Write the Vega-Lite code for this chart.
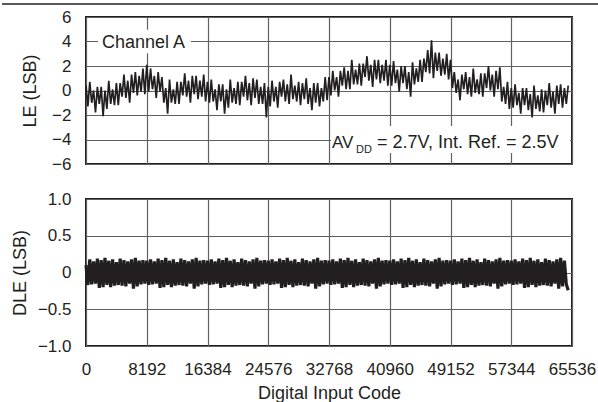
{
  "$schema": "https://vega.github.io/schema/vega-lite/v6.json",
  "padding": {"top": 2, "left": 0, "right": 0, "bottom": 2},
  "background": "white",
  "config": {
    "font": "Liberation Sans",
    "view": {"stroke": "#231f20", "strokeWidth": 2},
    "axis": {
      "labelFont": "Liberation Sans", "titleFont": "Liberation Sans",
      "labelFontSize": 17, "titleFontSize": 18, "titleFontWeight": "normal",
      "labelColor": "#231f20", "titleColor": "#231f20",
      "gridColor": "#606060", "gridWidth": 1.2, "gridOpacity": 1,
      "domain": false, "ticks": false, "labelOverlap": false
    },
    "text": {"font": "Liberation Sans", "color": "#231f20"}
  },
  "datasets": {
    "d": [
      {"x":0,"le":0.4,"dle":0.1},{"x":256,"le":-1.3,"dle":-0.17},{"x":512,"le":0.7,"dle":0.18},{"x":768,"le":-1.0,"dle":-0.16},
      {"x":1024,"le":0.0,"dle":0.15},{"x":1280,"le":-1.8,"dle":-0.15},{"x":1536,"le":0.3,"dle":0.19},{"x":1792,"le":-1.1,"dle":-0.21},
      {"x":2048,"le":0.3,"dle":0.17},{"x":2304,"le":-2.1,"dle":-0.2},{"x":2560,"le":0.0,"dle":0.2},{"x":2816,"le":-1.5,"dle":-0.17},
      {"x":3072,"le":0.8,"dle":0.16},{"x":3328,"le":-1.1,"dle":-0.2},{"x":3584,"le":0.1,"dle":0.18},{"x":3840,"le":-1.2,"dle":-0.18},
      {"x":4096,"le":0.6,"dle":0.14},{"x":4352,"le":-1.2,"dle":-0.17},{"x":4608,"le":0.6,"dle":0.19},{"x":4864,"le":-0.5,"dle":-0.18},
      {"x":5120,"le":1.3,"dle":0.17},{"x":5376,"le":-0.6,"dle":-0.19},{"x":5632,"le":0.8,"dle":0.15},{"x":5888,"le":-1.0,"dle":-0.15},
      {"x":6144,"le":1.3,"dle":0.18},{"x":6400,"le":-0.2,"dle":-0.22},{"x":6656,"le":1.5,"dle":0.2},{"x":6912,"le":-0.4,"dle":-0.19},
      {"x":7168,"le":1.2,"dle":0.16},{"x":7424,"le":-0.1,"dle":-0.16},{"x":7680,"le":1.8,"dle":0.17},{"x":7936,"le":-0.3,"dle":-0.15},
      {"x":8192,"le":2.1,"dle":0.16},{"x":8448,"le":-0.1,"dle":-0.17},{"x":8704,"le":1.8,"dle":0.18},{"x":8960,"le":0.1,"dle":-0.16},
      {"x":9216,"le":1.2,"dle":0.15},{"x":9472,"le":-0.6,"dle":-0.15},{"x":9728,"le":1.5,"dle":0.19},{"x":9984,"le":-0.1,"dle":-0.21},
      {"x":10240,"le":1.1,"dle":0.17},{"x":10496,"le":-1.0,"dle":-0.2},{"x":10752,"le":0.2,"dle":0.2},{"x":11008,"le":-1.9,"dle":-0.17},
      {"x":11264,"le":0.9,"dle":0.16},{"x":11520,"le":-1.0,"dle":-0.2},{"x":11776,"le":0.1,"dle":0.18},{"x":12032,"le":-1.1,"dle":-0.18},
      {"x":12288,"le":0.7,"dle":0.14},{"x":12544,"le":-1.1,"dle":-0.17},{"x":12800,"le":0.7,"dle":0.19},{"x":13056,"le":-0.4,"dle":-0.18},
      {"x":13312,"le":1.4,"dle":0.17},{"x":13568,"le":-0.5,"dle":-0.19},{"x":13824,"le":0.8,"dle":0.15},{"x":14080,"le":-1.0,"dle":-0.15},
      {"x":14336,"le":1.2,"dle":0.18},{"x":14592,"le":-0.3,"dle":-0.22},{"x":14848,"le":1.2,"dle":0.2},{"x":15104,"le":-0.7,"dle":-0.19},
      {"x":15360,"le":0.8,"dle":0.16},{"x":15616,"le":-0.5,"dle":-0.16},{"x":15872,"le":1.3,"dle":0.17},{"x":16128,"le":-0.9,"dle":-0.15},
      {"x":16384,"le":0.7,"dle":0.16},{"x":16640,"le":-1.0,"dle":-0.17},{"x":16896,"le":0.9,"dle":0.18},{"x":17152,"le":-0.9,"dle":-0.16},
      {"x":17408,"le":0.1,"dle":0.15},{"x":17664,"le":-1.6,"dle":-0.15},{"x":17920,"le":0.5,"dle":0.19},{"x":18176,"le":-0.9,"dle":-0.21},
      {"x":18432,"le":0.5,"dle":0.17},{"x":18688,"le":-1.9,"dle":-0.2},{"x":18944,"le":0.1,"dle":0.2},{"x":19200,"le":-1.4,"dle":-0.17},
      {"x":19456,"le":0.9,"dle":0.16},{"x":19712,"le":-1.0,"dle":-0.2},{"x":19968,"le":0.2,"dle":0.18},{"x":20224,"le":-1.1,"dle":-0.18},
      {"x":20480,"le":0.7,"dle":0.14},{"x":20736,"le":-1.2,"dle":-0.17},{"x":20992,"le":0.7,"dle":0.19},{"x":21248,"le":-0.5,"dle":-0.18},
      {"x":21504,"le":1.2,"dle":0.17},{"x":21760,"le":-0.8,"dle":-0.19},{"x":22016,"le":0.6,"dle":0.15},{"x":22272,"le":-1.2,"dle":-0.15},
      {"x":22528,"le":1.0,"dle":0.18},{"x":22784,"le":-0.6,"dle":-0.22},{"x":23040,"le":0.9,"dle":0.2},{"x":23296,"le":-1.1,"dle":-0.19},
      {"x":23552,"le":0.3,"dle":0.16},{"x":23808,"le":-1.1,"dle":-0.16},{"x":24064,"le":0.6,"dle":0.17},{"x":24320,"le":-2.2,"dle":-0.15},
      {"x":24576,"le":0.3,"dle":0.16},{"x":24832,"le":-1.3,"dle":-0.17},{"x":25088,"le":0.8,"dle":0.18},{"x":25344,"le":-0.9,"dle":-0.16},
      {"x":25600,"le":0.3,"dle":0.15},{"x":25856,"le":-1.4,"dle":-0.15},{"x":26112,"le":0.7,"dle":0.19},{"x":26368,"le":-0.5,"dle":-0.21},
      {"x":26624,"le":0.9,"dle":0.17},{"x":26880,"le":-0.9,"dle":-0.2},{"x":27136,"le":0.5,"dle":0.2},{"x":27392,"le":-1.1,"dle":-0.17},
      {"x":27648,"le":1.3,"dle":0.16},{"x":27904,"le":-0.7,"dle":-0.2},{"x":28160,"le":0.4,"dle":0.18},{"x":28416,"le":-0.9,"dle":-0.18},
      {"x":28672,"le":0.7,"dle":0.14},{"x":28928,"le":-1.2,"dle":-0.17},{"x":29184,"le":0.6,"dle":0.19},{"x":29440,"le":-0.7,"dle":-0.18},
      {"x":29696,"le":1.0,"dle":0.17},{"x":29952,"le":-1.1,"dle":-0.19},{"x":30208,"le":0.2,"dle":0.15},{"x":30464,"le":-1.6,"dle":-0.15},
      {"x":30720,"le":0.6,"dle":0.18},{"x":30976,"le":-1.0,"dle":-0.22},{"x":31232,"le":0.6,"dle":0.2},{"x":31488,"le":-1.3,"dle":-0.19},
      {"x":31744,"le":0.2,"dle":0.16},{"x":32000,"le":-0.9,"dle":-0.16},{"x":32256,"le":1.1,"dle":0.17},{"x":32512,"le":-0.8,"dle":-0.15},
      {"x":32768,"le":1.1,"dle":0.16},{"x":33024,"le":-0.4,"dle":-0.17},{"x":33280,"le":1.6,"dle":0.18},{"x":33536,"le":0.0,"dle":-0.16},
      {"x":33792,"le":1.1,"dle":0.15},{"x":34048,"le":-0.5,"dle":-0.15},{"x":34304,"le":1.6,"dle":0.19},{"x":34560,"le":0.4,"dle":-0.21},
      {"x":34816,"le":1.9,"dle":0.17},{"x":35072,"le":0.1,"dle":-0.2},{"x":35328,"le":1.6,"dle":0.2},{"x":35584,"le":0.1,"dle":-0.17},
      {"x":35840,"le":2.5,"dle":0.16},{"x":36096,"le":0.5,"dle":-0.2},{"x":36352,"le":1.7,"dle":0.18},{"x":36608,"le":0.5,"dle":-0.18},
      {"x":36864,"le":2.2,"dle":0.14},{"x":37120,"le":0.4,"dle":-0.17},{"x":37376,"le":2.2,"dle":0.19},{"x":37632,"le":1.1,"dle":-0.18},
      {"x":37888,"le":2.8,"dle":0.17},{"x":38144,"le":0.8,"dle":-0.19},{"x":38400,"le":2.1,"dle":0.15},{"x":38656,"le":0.3,"dle":-0.15},
      {"x":38912,"le":2.5,"dle":0.18},{"x":39168,"le":0.9,"dle":-0.22},{"x":39424,"le":2.5,"dle":0.2},{"x":39680,"le":0.6,"dle":-0.19},
      {"x":39936,"le":2.1,"dle":0.16},{"x":40192,"le":0.8,"dle":-0.16},{"x":40448,"le":2.5,"dle":0.17},{"x":40704,"le":0.4,"dle":-0.15},
      {"x":40960,"le":2.1,"dle":0.16},{"x":41216,"le":0.4,"dle":-0.17},{"x":41472,"le":2.4,"dle":0.18},{"x":41728,"le":0.6,"dle":-0.16},
      {"x":41984,"le":1.7,"dle":0.15},{"x":42240,"le":-0.1,"dle":-0.15},{"x":42496,"le":2.0,"dle":0.19},{"x":42752,"le":0.6,"dle":-0.21},
      {"x":43008,"le":2.0,"dle":0.17},{"x":43264,"le":0.1,"dle":-0.2},{"x":43520,"le":1.5,"dle":0.2},{"x":43776,"le":-0.5,"dle":-0.17},
      {"x":44032,"le":2.3,"dle":0.16},{"x":44288,"le":0.5,"dle":-0.2},{"x":44544,"le":1.8,"dle":0.18},{"x":44800,"le":0.7,"dle":-0.18},
      {"x":45056,"le":2.5,"dle":0.14},{"x":45312,"le":0.7,"dle":-0.17},{"x":45568,"le":2.6,"dle":0.19},{"x":45824,"le":1.5,"dle":-0.18},
      {"x":46080,"le":3.3,"dle":0.17},{"x":46336,"le":1.4,"dle":-0.19},{"x":46592,"le":4.1,"dle":0.15},{"x":46848,"le":1.0,"dle":-0.15},
      {"x":47104,"le":3.1,"dle":0.18},{"x":47360,"le":1.6,"dle":-0.22},{"x":47616,"le":3.1,"dle":0.2},{"x":47872,"le":1.2,"dle":-0.19},
      {"x":48128,"le":2.6,"dle":0.16},{"x":48384,"le":1.3,"dle":-0.16},{"x":48640,"le":3.0,"dle":0.17},{"x":48896,"le":0.9,"dle":-0.15},
      {"x":49152,"le":2.5,"dle":0.16},{"x":49408,"le":0.2,"dle":-0.17},{"x":49664,"le":1.5,"dle":0.18},{"x":49920,"le":-0.2,"dle":-0.16},
      {"x":50176,"le":0.9,"dle":0.15},{"x":50432,"le":-0.8,"dle":-0.15},{"x":50688,"le":1.3,"dle":0.19},{"x":50944,"le":0.1,"dle":-0.21},
      {"x":51200,"le":1.5,"dle":0.17},{"x":51456,"le":-0.3,"dle":-0.2},{"x":51712,"le":1.1,"dle":0.2},{"x":51968,"le":-0.5,"dle":-0.17},
      {"x":52224,"le":1.8,"dle":0.16},{"x":52480,"le":-0.2,"dle":-0.2},{"x":52736,"le":0.9,"dle":0.18},{"x":52992,"le":-0.3,"dle":-0.18},
      {"x":53248,"le":1.4,"dle":0.14},{"x":53504,"le":-0.5,"dle":-0.17},{"x":53760,"le":1.4,"dle":0.19},{"x":54016,"le":0.2,"dle":-0.18},
      {"x":54272,"le":2.0,"dle":0.17},{"x":54528,"le":0.0,"dle":-0.19},{"x":54784,"le":1.3,"dle":0.15},{"x":55040,"le":-0.5,"dle":-0.15},
      {"x":55296,"le":1.6,"dle":0.18},{"x":55552,"le":0.1,"dle":-0.22},{"x":55808,"le":1.9,"dle":0.2},{"x":56064,"le":-0.9,"dle":-0.19},
      {"x":56320,"le":0.3,"dle":0.16},{"x":56576,"le":-1.1,"dle":-0.16},{"x":56832,"le":0.7,"dle":0.17},{"x":57088,"le":-1.5,"dle":-0.15},
      {"x":57344,"le":0.2,"dle":0.16},{"x":57600,"le":-1.4,"dle":-0.17},{"x":57856,"le":0.5,"dle":0.18},{"x":58112,"le":-1.2,"dle":-0.16},
      {"x":58368,"le":-0.2,"dle":0.15},{"x":58624,"le":-1.9,"dle":-0.15},{"x":58880,"le":0.2,"dle":0.19},{"x":59136,"le":-1.2,"dle":-0.21},
      {"x":59392,"le":0.2,"dle":0.17},{"x":59648,"le":-1.6,"dle":-0.2},{"x":59904,"le":-0.3,"dle":0.2},{"x":60160,"le":-2.2,"dle":-0.17},
      {"x":60416,"le":0.4,"dle":0.16},{"x":60672,"le":-1.5,"dle":-0.2},{"x":60928,"le":-0.4,"dle":0.18},{"x":61184,"le":-1.7,"dle":-0.18},
      {"x":61440,"le":0.1,"dle":0.14},{"x":61696,"le":-1.8,"dle":-0.17},{"x":61952,"le":0.0,"dle":0.19},{"x":62208,"le":-1.2,"dle":-0.18},
      {"x":62464,"le":0.6,"dle":0.17},{"x":62720,"le":-1.4,"dle":-0.19},{"x":62976,"le":-0.1,"dle":0.15},{"x":63232,"le":-1.9,"dle":-0.15},
      {"x":63488,"le":0.4,"dle":0.18},{"x":63744,"le":-1.1,"dle":-0.22},{"x":64000,"le":0.5,"dle":0.2},{"x":64256,"le":-1.4,"dle":-0.19},
      {"x":64512,"le":0.2,"dle":0.16},{"x":64768,"le":-1.1,"dle":-0.16},{"x":65024,"le":0.4,"dle":-0.24}
    ]
  },
  "data": {"name": "d"},
  "spacing": 16,
  "vconcat": [
    {
      "width": 486,
      "height": 147,
      "layer": [
        {
          "mark": {"type": "line", "color": "#231f20", "strokeWidth": 1.7},
          "encoding": {
            "x": {"field": "x", "type": "quantitative", "scale": {"domain": [0, 65536], "nice": false},
                  "axis": {"values": [0, 8192, 16384, 24576, 32768, 40960, 49152, 57344, 65536], "labels": false, "title": null, "grid": true}},
            "y": {"field": "le", "type": "quantitative", "scale": {"domain": [-6, 6], "nice": false},
                  "axis": {"values": [-6, -4, -2, 0, 2, 4, 6], "title": "LE (LSB)", "labelPadding": 15, "titlePadding": 12, "grid": true, "format": "d"}}
          }
        },
        {
          "data": {"values": [{}]},
          "mark": {"type": "rect", "color": "white", "opacity": 1},
          "encoding": {
            "x": {"datum": 1618, "type": "quantitative", "axis": {"values": [0, 8192, 16384, 24576, 32768, 40960, 49152, 57344, 65536], "labels": false, "title": null, "grid": true}}, "x2": {"datum": 14159},
            "y": {"datum": 3.05, "type": "quantitative", "axis": {"values": [-6, -4, -2, 0, 2, 4, 6], "title": "LE (LSB)", "labelPadding": 15, "titlePadding": 12, "grid": true, "format": "d"}}, "y2": {"datum": 4.95}
          }
        },
        {
          "data": {"values": [{}]},
          "mark": {"type": "rect", "color": "white", "opacity": 1},
          "encoding": {
            "x": {"datum": 33037, "type": "quantitative", "axis": {"values": [0, 8192, 16384, 24576, 32768, 40960, 49152, 57344, 65536], "labels": false, "title": null, "grid": true}}, "x2": {"datum": 65266},
            "y": {"datum": -2.9, "type": "quantitative", "axis": {"values": [-6, -4, -2, 0, 2, 4, 6], "title": "LE (LSB)", "labelPadding": 15, "titlePadding": 12, "grid": true, "format": "d"}}, "y2": {"datum": -5.1}
          }
        },
        {
          "data": {"values": [{"t": "Channel A"}]},
          "mark": {"type": "text", "align": "left", "baseline": "alphabetic", "fontSize": 18},
          "encoding": {
            "x": {"datum": 2157, "type": "quantitative", "axis": {"values": [0, 8192, 16384, 24576, 32768, 40960, 49152, 57344, 65536], "labels": false, "title": null, "grid": true}},
            "y": {"datum": 3.5, "type": "quantitative", "axis": {"values": [-6, -4, -2, 0, 2, 4, 6], "title": "LE (LSB)", "labelPadding": 15, "titlePadding": 12, "grid": true, "format": "d"}},
            "text": {"field": "t"}
          }
        },
        {
          "data": {"values": [{"t": "AV"}]},
          "mark": {"type": "text", "align": "left", "baseline": "alphabetic", "fontSize": 17},
          "encoding": {
            "x": {"datum": 33172, "type": "quantitative", "axis": {"values": [0, 8192, 16384, 24576, 32768, 40960, 49152, 57344, 65536], "labels": false, "title": null, "grid": true}},
            "y": {"datum": -4.7, "type": "quantitative", "axis": {"values": [-6, -4, -2, 0, 2, 4, 6], "title": "LE (LSB)", "labelPadding": 15, "titlePadding": 12, "grid": true, "format": "d"}},
            "text": {"field": "t"}
          }
        },
        {
          "data": {"values": [{"t": "DD"}]},
          "mark": {"type": "text", "align": "left", "baseline": "alphabetic", "fontSize": 11, "dy": 5},
          "encoding": {
            "x": {"datum": 36409, "type": "quantitative", "axis": {"values": [0, 8192, 16384, 24576, 32768, 40960, 49152, 57344, 65536], "labels": false, "title": null, "grid": true}},
            "y": {"datum": -4.7, "type": "quantitative", "axis": {"values": [-6, -4, -2, 0, 2, 4, 6], "title": "LE (LSB)", "labelPadding": 15, "titlePadding": 12, "grid": true, "format": "d"}},
            "text": {"field": "t"}
          }
        },
        {
          "data": {"values": [{"t": "= 2.7V, Int. Ref. = 2.5V"}]},
          "mark": {"type": "text", "align": "left", "baseline": "alphabetic", "fontSize": 18},
          "encoding": {
            "x": {"datum": 39240, "type": "quantitative", "axis": {"values": [0, 8192, 16384, 24576, 32768, 40960, 49152, 57344, 65536], "labels": false, "title": null, "grid": true}},
            "y": {"datum": -4.7, "type": "quantitative", "axis": {"values": [-6, -4, -2, 0, 2, 4, 6], "title": "LE (LSB)", "labelPadding": 15, "titlePadding": 12, "grid": true, "format": "d"}},
            "text": {"field": "t"}
          }
        },
        {
          "data": {"values": [{}]},
          "mark": {"type": "rule", "color": "#231f20", "strokeWidth": 1.3, "clip": false},
          "encoding": {
            "x": {"datum": -11327, "type": "quantitative", "axis": {"values": [0, 8192, 16384, 24576, 32768, 40960, 49152, 57344, 65536], "labels": false, "title": null, "grid": true}}, "x2": {"datum": 69312},
            "y": {"datum": 7.06, "type": "quantitative", "axis": {"values": [-6, -4, -2, 0, 2, 4, 6], "title": "LE (LSB)", "labelPadding": 15, "titlePadding": 12, "grid": true, "format": "d"}}
          }
        }
      ]
    },
    {
      "width": 486,
      "height": 147,
      "mark": {"type": "line", "color": "#231f20", "strokeWidth": 3.2},
      "encoding": {
        "x": {"field": "x", "type": "quantitative", "scale": {"domain": [0, 65536], "nice": false},
              "axis": {"values": [0, 8192, 16384, 24576, 32768, 40960, 49152, 57344, 65536], "format": "d", "title": "Digital Input Code", "grid": true, "labelPadding": 15, "titlePadding": 7, "labelFlush": false}},
        "y": {"field": "dle", "type": "quantitative", "scale": {"domain": [-1, 1], "nice": false},
              "axis": {"values": [-1, -0.5, 0, 0.5, 1], "title": "DLE (LSB)", "labelPadding": 15, "titlePadding": 8, "grid": true,
                       "labelExpr": "datum.value == 0 ? '0' : format(datum.value, '.1f')"}}
      }
    }
  ]
}
